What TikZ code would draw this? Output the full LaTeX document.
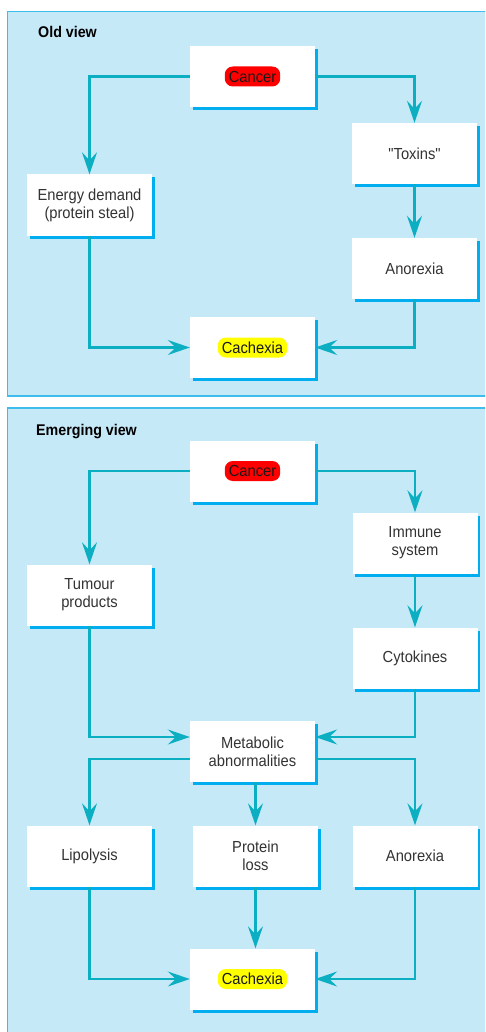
\documentclass[tikz,border=0pt]{standalone}
\usepackage{fontspec}
\setmainfont{Liberation Sans}[FakeStretch=0.92]
\newfontfamily\plainfont{Liberation Sans}[FakeStretch=0.92]
\usetikzlibrary{arrows.meta,shadows}
\definecolor{panelfill}{HTML}{C6E9F8}
\definecolor{panelline}{HTML}{3EBDEC}
\definecolor{conncol}{HTML}{0BAFC1}
\definecolor{shadowcol}{HTML}{00AEEF}
\definecolor{txtcol}{HTML}{333333}
\definecolor{pillred}{HTML}{FF0000}
\definecolor{pillyellow}{HTML}{FFFF00}
\tikzset{
  panel/.style={fill=panelfill,draw=panelline,line width=1.6pt},
  box/.style={fill=white,minimum width=125pt,minimum height=61pt,inner sep=0pt,
    align=center,text=txtcol,font=\fontsize{16pt}{18pt}\selectfont,
    drop shadow={shadow xshift=2.5pt,shadow yshift=-3pt,fill=shadowcol,opacity=1}},
  pill/.style={rounded corners=8pt,inner xsep=4pt,inner ysep=0pt,minimum height=20pt,
    text=black!90,font=\fontsize{16pt}{18pt}\selectfont},
  title/.style={anchor=west,inner sep=0pt,font=\fontsize{15.5pt}{17pt}\selectfont\bfseries,text=black},
  conn/.style={draw=conncol,line width=2.3pt,-{Stealth[length=22pt,width=15pt,inset=8pt]}}
}
\begin{document}
\begin{tikzpicture}[x=1pt,y=-1pt]
\useasboundingbox (0,0) rectangle (485,1032);
\begin{scope}
\clip (0,0) rectangle (485,1032);
\draw[panel] (7.5,11.5) rectangle (495,396);
\draw[panel] (7.5,408) rectangle (495,1045);
\end{scope}

% Old view
\node[title] (t1) at (38,32) {Old view};
\node[box] (cancerA) at (252.5,76.5) {};
\node[pill,fill=pillred] (cancerApill) at (cancerA) {Cancer};
\node[box] (toxins) at (414.5,153.5) {\plainfont "Toxins"};
\node[box] (energy) at (89.5,205) {Energy demand\\(protein steal)};
\node[box] (anorexiaA) at (414.5,268.5) {Anorexia};
\node[box] (cachexiaA) at (252.5,347.5) {};
\node[pill,fill=pillyellow] (cachexiaApill) at (cachexiaA) {Cachexia};

\draw[conn] (cancerA.west) -| (energy.north);
\draw[conn] (cancerA.east) -| (toxins.north);
\draw[conn] (toxins.south) -- (anorexiaA.north);
\draw[conn] (energy.south) |- (cachexiaA.west);
\draw[conn] (anorexiaA.south) |- (cachexiaA.east);

% Emerging view
\node[title] (t2) at (36,432) {Emerging view};
\node[box] (cancerB) at (252.5,471) {};
\node[pill,fill=pillred] (cancerBpill) at (cancerB) {Cancer};
\node[box] (immune) at (415,543) {Immune\\system};
\node[box] (tumour) at (89.5,595) {Tumour\\products};
\node[box] (cytokines) at (415,658) {Cytokines};
\node[box] (metabolic) at (252.5,751.5) {Metabolic\\abnormalities};
\node[box] (lipolysis) at (89.5,856) {Lipolysis};
\node[box] (protein) at (255.5,856) {Protein\\loss};
\node[box] (anorexiaB) at (415,856) {Anorexia};
\node[box] (cachexiaB) at (252.5,979) {};
\node[pill,fill=pillyellow] (cachexiaBpill) at (cachexiaB) {Cachexia};

\draw[conn] (cancerB.west) -| (tumour.north);
\draw[conn] (cancerB.east) -| (immune.north);
\draw[conn] (immune.south) -- (cytokines.north);
\draw[conn] (tumour.south) |- ([yshift=14.5pt]metabolic.west);
\draw[conn] (cytokines.south) |- ([yshift=14.5pt]metabolic.east);
\draw[conn] ([yshift=-7.5pt]metabolic.west) -| (lipolysis.north);
\draw[conn] ([yshift=-7.5pt]metabolic.east) -| (anorexiaB.north);
\draw[conn] (metabolic.south -| protein.north) -- (protein.north);
\draw[conn] (lipolysis.south) |- (cachexiaB.west);
\draw[conn] (anorexiaB.south) |- (cachexiaB.east);
\draw[conn] (protein.south) -- (protein.south |- cachexiaB.north);
\end{tikzpicture}
\end{document}
